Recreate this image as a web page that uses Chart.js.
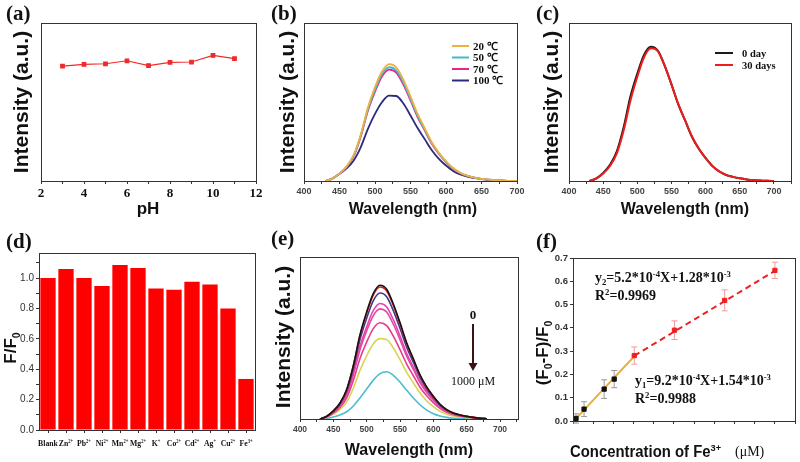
<!DOCTYPE html>
<html lang="en">
<head>
<meta charset="UTF-8">
<title>Fe3+ probe characterisation</title>
<style>
    body { margin: 0; background: #fff; }
    #fig { position: relative; width: 800px; height: 462px; overflow: hidden; }
    #fig canvas { position: absolute; }
    .tag { position: absolute; font: bold 21px "Liberation Serif", "Times New Roman", serif; color: #111; line-height: 21px; }
</style>
<script src="https://cdn.jsdelivr.net/npm/chart.js"></script>
</head>
<body>
<div id="fig">
    <canvas id="chartA" width="265" height="230" style="left:0;top:0"></canvas>
    <canvas id="chartB" width="270" height="230" style="left:265px;top:0"></canvas>
    <canvas id="chartC" width="270" height="230" style="left:530px;top:0"></canvas>
    <canvas id="chartD" width="265" height="237" style="left:0;top:225px"></canvas>
    <canvas id="chartE" width="270" height="237" style="left:265px;top:225px"></canvas>
    <canvas id="chartF" width="270" height="237" style="left:530px;top:225px"></canvas>
    <div class="tag" style="left:6px;top:3px">(a)</div>
    <div class="tag" style="left:271px;top:3px">(b)</div>
    <div class="tag" style="left:536px;top:3px">(c)</div>
    <div class="tag" style="left:6px;top:231px">(d)</div>
    <div class="tag" style="left:271px;top:228px">(e)</div>
    <div class="tag" style="left:536px;top:231px">(f)</div>
</div>

<script>
// (a) pH stability
const phValues = [3, 4, 5, 6, 7, 8, 9, 10, 11];
const phIntensity = [0.727, 0.738, 0.742, 0.761, 0.730, 0.751, 0.753, 0.795, 0.774];

// emission spectra sampled every 10 nm
const wavelengths = [430, 440, 450, 460, 470, 480, 490, 500, 510, 520, 530, 540, 550, 560,
                     570, 580, 590, 600, 610, 620, 630, 640, 650, 660, 670, 680, 690, 700];

// (b) temperature
const tempLabels = ['20 \u2103', '50 \u2103', '70 \u2103', '100 \u2103'];
const temp20  = [0, 0.015, 0.048, 0.092, 0.165, 0.295, 0.465, 0.595, 0.695, 0.74, 0.72, 0.64, 0.535, 0.425,
                 0.335, 0.245, 0.178, 0.125, 0.082, 0.052, 0.034, 0.022, 0.014, 0.009, 0.005, 0.002, 0.001, 0];
const temp50  = [0, 0.015, 0.047, 0.09, 0.16, 0.288, 0.453, 0.578, 0.677, 0.72, 0.70, 0.623, 0.52, 0.413,
                 0.326, 0.24, 0.175, 0.123, 0.08, 0.051, 0.033, 0.022, 0.014, 0.009, 0.005, 0.002, 0.001, 0];
const temp70  = [0, 0.015, 0.047, 0.088, 0.157, 0.282, 0.444, 0.566, 0.663, 0.705, 0.686, 0.61, 0.51, 0.405,
                 0.32, 0.235, 0.171, 0.12, 0.078, 0.05, 0.032, 0.021, 0.014, 0.008, 0.004, 0.002, 0.001, 0];
const temp100 = [0, 0.015, 0.046, 0.08, 0.13, 0.215, 0.33, 0.425, 0.5, 0.54, 0.538, 0.49, 0.415, 0.335,
                 0.265, 0.195, 0.14, 0.098, 0.064, 0.041, 0.027, 0.018, 0.012, 0.007, 0.004, 0.002, 0.001, 0];

// (c) storage
const dayLabels = ['0 day', '30 days'];
const day0  = [0, 0.017, 0.051, 0.102, 0.187, 0.34, 0.536, 0.68, 0.8, 0.85, 0.825, 0.731, 0.612, 0.485,
               0.383, 0.28, 0.204, 0.145, 0.094, 0.06, 0.038, 0.026, 0.017, 0.01, 0.005, 0.003, 0.001, 0];
const day30 = [0, 0.015, 0.047, 0.095, 0.175, 0.32, 0.51, 0.66, 0.785, 0.84, 0.822, 0.73, 0.612, 0.486,
               0.384, 0.282, 0.205, 0.146, 0.095, 0.061, 0.039, 0.026, 0.017, 0.01, 0.005, 0.003, 0.001, 0];

// (d) selectivity
const ions = ['Blank', 'Zn^{2+}', 'Pb^{2+}', 'Ni^{2+}', 'Mn^{2+}', 'Mg^{2+}', 'K^{+}', 'Co^{2+}',
              'Cd^{2+}', 'Ag^{+}', 'Cu^{2+}', 'Fe^{3+}'];
const ionRatio = [1.0, 1.059, 1.0, 0.947, 1.086, 1.066, 0.932, 0.923, 0.976, 0.958, 0.80, 0.336];

// (e) titration spectra, top curve to bottom curve
const titr1 = [0, 0.017, 0.05, 0.099, 0.182, 0.33, 0.52, 0.661, 0.776, 0.826, 0.801, 0.71, 0.595, 0.471,
               0.372, 0.273, 0.198, 0.14, 0.091, 0.058, 0.037, 0.025, 0.017, 0.01, 0.005, 0.002, null, null];
const titr2 = [0, 0.016, 0.049, 0.098, 0.179, 0.326, 0.513, 0.652, 0.766, 0.815, 0.79, 0.701, 0.587, 0.465,
               0.367, 0.269, 0.196, 0.139, 0.09, 0.057, 0.037, 0.024, 0.016, 0.01, 0.005, 0.002, null, null];
const titr3 = [0, 0.016, 0.047, 0.093, 0.171, 0.311, 0.49, 0.622, 0.731, 0.778, 0.755, 0.669, 0.56, 0.443,
               0.35, 0.257, 0.187, 0.132, 0.086, 0.054, 0.035, 0.023, 0.016, 0.009, 0.005, 0.002, null, null];
const titr4 = [0, 0.014, 0.043, 0.086, 0.157, 0.285, 0.449, 0.57, 0.67, 0.713, 0.692, 0.613, 0.513, 0.406,
               0.321, 0.235, 0.171, 0.121, 0.078, 0.05, 0.032, 0.021, 0.014, 0.009, 0.004, 0.002, null, null];
const titr5 = [0, 0.014, 0.041, 0.082, 0.15, 0.272, 0.428, 0.544, 0.639, 0.68, 0.66, 0.585, 0.49, 0.388,
               0.306, 0.224, 0.163, 0.116, 0.075, 0.048, 0.031, 0.02, 0.014, 0.008, 0.004, 0.002, null, null];
const titr6 = [0, 0.012, 0.036, 0.071, 0.131, 0.238, 0.374, 0.475, 0.558, 0.594, 0.576, 0.511, 0.428, 0.339,
               0.267, 0.196, 0.143, 0.101, 0.065, 0.042, 0.027, 0.018, 0.012, 0.007, 0.004, 0.002, null, null];
const titr7 = [0, 0.01, 0.03, 0.058, 0.104, 0.19, 0.3, 0.39, 0.465, 0.496, 0.49, 0.438, 0.366, 0.288,
               0.224, 0.16, 0.112, 0.076, 0.048, 0.03, 0.019, 0.012, 0.008, 0.005, 0.003, 0.001, null, null];
const titr8 = [0, 0.004, 0.012, 0.025, 0.045, 0.08, 0.13, 0.185, 0.24, 0.28, 0.292, 0.27, 0.228, 0.178,
               0.13, 0.088, 0.055, 0.033, 0.019, 0.01, 0.005, 0.003, 0.001, 0, 0, 0, null, null];
const titrColors = ['#151515', '#ee1c1c', '#3c3c8c', '#e246b4', '#e8489e', '#e63c8a', '#d8d455', '#4cbccf'];

// (f) calibration
const feConcLow = [10, 50, 150, 200];
const feQuenchLow = [0.011, 0.051, 0.137, 0.18];
const feErrLow = [0.02, 0.032, 0.04, 0.037];
const feConcHigh = [300, 500, 750, 1000];
const feQuenchHigh = [0.281, 0.39, 0.518, 0.647];
const feErrHigh = [0.037, 0.04, 0.045, 0.035];
const fitLowX = [5, 300];
const fitLowY = [0.006, 0.278];
const fitHighX = [300, 1000];
const fitHighY = [0.28, 0.645];

const SANS = '"Liberation Sans", Arial, sans-serif';
const SERIF = '"Liberation Serif", "Times New Roman", serif';

Chart.defaults.animation = false;
Chart.defaults.responsive = false;
Chart.defaults.plugins.legend.display = false;
Chart.defaults.plugins.tooltip.enabled = false;
Chart.defaults.color = '#333';

const xy = (xs, ys) => xs.map((x, i) => ({x: x, y: ys[i]}));

// "Fe^{3+}" / "F_{0}" style text
function parseRich(str) {
    const parts = [];
    const re = /([_^])\{([^}]*)\}/g;
    let last = 0, m;
    while ((m = re.exec(str))) {
        if (m.index > last) parts.push({t: str.slice(last, m.index), k: 0});
        parts.push({t: m[2], k: m[1] === '^' ? 1 : -1});
        last = re.lastIndex;
    }
    if (last < str.length) parts.push({t: str.slice(last), k: 0});
    return parts;
}

function drawRich(ctx, str, x, y, o) {
    const parts = parseRich(str);
    const size = o.size, small = size * (o.small || 0.62);
    const family = o.family || SANS;
    const weight = o.weight || 'bold';
    const fontFor = k => weight + ' ' + (k ? small : size) + 'px ' + family;
    ctx.save();
    ctx.fillStyle = o.color || '#111';
    ctx.textBaseline = 'alphabetic';
    let w = 0;
    parts.forEach(p => { ctx.font = fontFor(p.k); p.w = ctx.measureText(p.t).width; w += p.w; });
    ctx.translate(x, y);
    if (o.rot) ctx.rotate(-Math.PI / 2);
    if (o.sx) ctx.scale(o.sx, 1);
    let cx = o.align === 'left' ? 0 : o.align === 'right' ? -w : -w / 2;
    const base = size * 0.36;
    parts.forEach(p => {
        ctx.font = fontFor(p.k);
        const dy = p.k > 0 ? -size * 0.36 : p.k < 0 ? size * 0.2 : 0;
        ctx.fillText(p.t, cx, base + dy);
        cx += p.w;
    });
    ctx.restore();
}

function drawLegend(ctx, items, o) {
    items.forEach((it, i) => {
        const y = o.y + i * o.dy;
        ctx.save();
        ctx.strokeStyle = it.color;
        ctx.lineWidth = 2;
        ctx.beginPath();
        ctx.moveTo(o.x0, y);
        ctx.lineTo(o.x1, y);
        ctx.stroke();
        ctx.restore();
        drawRich(ctx, it.label, o.xt, y, {size: o.size, family: SERIF, align: 'left'});
    });
}

function drawErrors(chart, dsIndex, errs, color) {
    const ctx = chart.ctx, ys = chart.scales.y;
    const meta = chart.getDatasetMeta(dsIndex);
    const vals = chart.data.datasets[dsIndex].data;
    ctx.save();
    ctx.strokeStyle = color;
    ctx.lineWidth = 1;
    meta.data.forEach((pt, j) => {
        const top = ys.getPixelForValue(vals[j].y + errs[j]);
        const bot = ys.getPixelForValue(vals[j].y - errs[j]);
        ctx.beginPath();
        ctx.moveTo(pt.x, top); ctx.lineTo(pt.x, bot);
        ctx.moveTo(pt.x - 3, top); ctx.lineTo(pt.x + 3, top);
        ctx.moveTo(pt.x - 3, bot); ctx.lineTo(pt.x + 3, bot);
        ctx.stroke();
    });
    ctx.restore();
}

// per-canvas decorations: axis titles, legends, notes
const deco = {
    chartA: {
        texts: [
            {t: 'Intensity (a.u.)', x: 20, y: 102, size: 21, rot: true},
            {t: 'pH', x: 148, y: 208, size: 17}
        ]
    },
    chartB: {
        texts: [
            {t: 'Intensity (a.u.)', x: 21, y: 102, size: 21, rot: true},
            {t: 'Wavelength (nm)', x: 148, y: 208, size: 16}
        ],
        after: c => drawLegend(c.ctx, tempLabels.map((l, i) => ({label: l, color: c.data.datasets[i].borderColor})),
                               {x0: 187, x1: 204, xt: 208, y: 46, dy: 11.5, size: 11})
    },
    chartC: {
        texts: [
            {t: 'Intensity (a.u.)', x: 20, y: 102, size: 21, rot: true},
            {t: 'Wavelength (nm)', x: 155, y: 208, size: 16}
        ],
        after: c => drawLegend(c.ctx, [{label: dayLabels[0], color: c.data.datasets[1].borderColor},
                                       {label: dayLabels[1], color: c.data.datasets[0].borderColor}],
                               {x0: 185, x1: 203, xt: 212, y: 53, dy: 12, size: 10.5})
    },
    chartD: {
        texts: [
            {t: 'F/F_{0}', x: 10, y: 123, size: 17, rot: true}
        ],
        after: c => {
            const sx = c.scales.x;
            ions.forEach((ion, i) => drawRich(c.ctx, ion, sx.getPixelForTick(i), 218,
                                              {size: 9, family: SERIF, sx: 0.86, small: 0.58}));
        }
    },
    chartE: {
        texts: [
            {t: 'Intensity (a.u.)', x: 17, y: 112, size: 21, rot: true},
            {t: 'Wavelength (nm)', x: 144, y: 224, size: 16},
            {t: '0', x: 208, y: 89, size: 13, family: SERIF},
            {t: '1000 \u03bcM', x: 208, y: 156, size: 12, family: SERIF, weight: 'normal'}
        ],
        after: c => {
            const ctx = c.ctx;
            ctx.save();
            ctx.strokeStyle = '#3a1414';
            ctx.fillStyle = '#3a1414';
            ctx.lineWidth = 2;
            ctx.beginPath();
            ctx.moveTo(208, 99); ctx.lineTo(208, 139);
            ctx.stroke();
            ctx.beginPath();
            ctx.moveTo(203.5, 138); ctx.lineTo(212.5, 138); ctx.lineTo(208, 146);
            ctx.closePath();
            ctx.fill();
            ctx.restore();
        }
    },
    chartF: {
        texts: [
            {t: '(F_{0}-F)/F_{0}', x: 12, y: 128, size: 17, rot: true},
            {t: 'Concentration of Fe^{3+}', x: 40, y: 226, size: 16, align: 'left', sx: 0.93},
            {t: '(\u03bcM)', x: 205, y: 226, size: 14, family: SERIF, weight: 'normal', align: 'left'},
            {t: 'y_{2}=5.2*10^{-4}X+1.28*10^{-3}', x: 65, y: 52, size: 14, family: SERIF, align: 'left'},
            {t: 'R^{2}=0.9969', x: 65, y: 70, size: 14, family: SERIF, align: 'left'},
            {t: 'y_{1}=9.2*10^{-4}X+1.54*10^{-3}', x: 105, y: 155, size: 14, family: SERIF, align: 'left'},
            {t: 'R^{2}=0.9988', x: 105, y: 173, size: 14, family: SERIF, align: 'left'}
        ],
        before: c => {
            drawErrors(c, 1, feErrLow, '#9a9a9a');
            drawErrors(c, 0, feErrHigh, '#f29a9a');
        }
    }
};

Chart.register({
    id: 'deco',
    beforeDatasetsDraw(chart) {
        const d = deco[chart.canvas.id];
        if (d && d.before) d.before(chart);
    },
    afterDraw(chart) {
        const d = deco[chart.canvas.id];
        const ctx = chart.ctx, a = chart.chartArea;
        ctx.save();
        ctx.strokeStyle = '#333';
        ctx.lineWidth = 1;
        ctx.strokeRect(Math.round(a.left) + 0.5, Math.round(a.top) + 0.5, Math.round(a.width), Math.round(a.height));
        ctx.restore();
        if (!d) return;
        (d.texts || []).forEach(t => drawRich(ctx, t.t, t.x, t.y, t));
        if (d.after) d.after(chart);
    }
});

const fixW = w => s => { s.width = w; s.paddingTop = 0; s.paddingBottom = 0; };
const fixH = h => s => { s.height = h; s.paddingLeft = 0; s.paddingRight = 0; };

function blankY(w) {
    return {min: 0, max: 1, ticks: {display: false}, grid: {display: false}, border: {display: false}, afterFit: fixW(w)};
}

function tickedX(h, min, max, step, every, font, pad) {
    return {
        type: 'linear', min: min, max: max, border: {display: false},
        grid: {drawOnChartArea: false, tickLength: 3, color: '#333'},
        ticks: {
            stepSize: step, includeBounds: false, autoSkip: false, maxRotation: 0, padding: pad,
            color: font.color || '#444', font: font,
            callback: v => (Math.abs(v / every - Math.round(v / every)) < 1e-6 && v >= 0) ? String(Math.round(v)) : ''
        },
        afterFit: fixH(h)
    };
}

function tickedY(w, max, step, every, font) {
    return {
        min: 0, max: max, border: {display: false},
        grid: {drawOnChartArea: false, tickLength: 3, color: '#333'},
        ticks: {
            stepSize: step, includeBounds: false, padding: 2, color: '#333', font: font,
            callback: v => Math.abs(v / every - Math.round(v / every)) < 1e-6 ? v.toFixed(1) : ''
        },
        afterFit: fixW(w)
    };
}

const spectrum = (ys, color, width) => ({
    data: xy(wavelengths, ys), borderColor: color, borderWidth: width || 1.8,
    pointRadius: 0, tension: 0.4, cubicInterpolationMode: 'monotone', fill: false
});

const waveFont = size => ({family: SANS, size: size, weight: 'bold'});

// (a)
new Chart(document.getElementById('chartA'), {
    type: 'line',
    data: {
        datasets: [{
            data: xy(phValues, phIntensity), borderColor: '#f02a2a', backgroundColor: '#f02a2a',
            borderWidth: 1.2, pointStyle: 'rect', pointRadius: 2.5, tension: 0
        }]
    },
    options: {
        layout: {padding: {left: 0, top: 23, right: 9, bottom: 0}},
        scales: {
            x: tickedX(49, 2, 12, 1, 2, {family: SERIF, size: 13, weight: 'bold', color: '#111'}, 2),
            y: blankY(41)
        }
    }
});

// (b)
new Chart(document.getElementById('chartB'), {
    type: 'line',
    data: {
        datasets: [
            spectrum(temp20, '#eeb040'),
            spectrum(temp50, '#45b9c9'),
            spectrum(temp70, '#e8238c'),
            spectrum(temp100, '#2b2b7e')
        ]
    },
    options: {
        layout: {padding: {left: 0, top: 23, right: 18, bottom: 0}},
        scales: {x: tickedX(49, 400, 700, 25, 50, waveFont(9), 2), y: blankY(39)}
    }
});

// (c)
new Chart(document.getElementById('chartC'), {
    type: 'line',
    data: {
        datasets: [
            spectrum(day30, '#ee1c1c', 2),
            spectrum(day0, '#1a1a1a', 2)
        ]
    },
    options: {
        layout: {padding: {left: 0, top: 23, right: 9, bottom: 0}},
        scales: {x: tickedX(49, 400, 725, 25, 50, waveFont(9), 2), y: blankY(39)}
    }
});

// (d)
new Chart(document.getElementById('chartD'), {
    type: 'bar',
    data: {
        labels: ions,
        datasets: [{data: ionRatio, backgroundColor: '#ff0000', barPercentage: 0.85, categoryPercentage: 1}]
    },
    options: {
        layout: {padding: {left: 0, top: 28, right: 10, bottom: 0}},
        scales: {
            x: {
                border: {display: false},
                grid: {offset: false, drawOnChartArea: false, tickLength: 3, color: '#333'},
                ticks: {display: false},
                afterFit: fixH(32)
            },
            y: tickedY(39, 1.165, 0.1, 0.2, {family: SANS, size: 10})
        }
    }
});

// (e)
new Chart(document.getElementById('chartE'), {
    type: 'line',
    data: {
        datasets: [titr1, titr2, titr3, titr4, titr5, titr6, titr7, titr8].map((s, i) => spectrum(s, titrColors[i], 1.6))
    },
    options: {
        layout: {padding: {left: 0, top: 32, right: 17, bottom: 0}},
        scales: {x: tickedX(43, 400, 727, 25, 50, waveFont(8.5), 3), y: blankY(35)}
    }
});

// (f)
new Chart(document.getElementById('chartF'), {
    type: 'line',
    data: {
        datasets: [
            {data: xy(feConcHigh, feQuenchHigh), showLine: false, pointStyle: 'rect', pointRadius: 3,
             backgroundColor: '#ee2020', borderColor: '#ee2020'},
            {data: xy(feConcLow, feQuenchLow), showLine: false, pointStyle: 'rect', pointRadius: 3,
             backgroundColor: '#111', borderColor: '#111'},
            {data: xy(fitHighX, fitHighY), borderColor: '#ee2222', borderWidth: 2, borderDash: [6, 4], pointRadius: 0},
            {data: xy(fitLowX, fitLowY), borderColor: '#e6b040', borderWidth: 2, pointRadius: 0}
        ]
    },
    options: {
        layout: {padding: {left: 0, top: 33, right: 4, bottom: 0}},
        scales: {
            x: tickedX(41, -5, 1100, 100, 200, {family: SANS, size: 9.5, weight: 'bold', color: '#333'}, 3),
            y: tickedY(43, 0.7, 0.05, 0.1, {family: SANS, size: 9.5, weight: 'bold'})
        }
    }
});
</script>
</body>
</html>
